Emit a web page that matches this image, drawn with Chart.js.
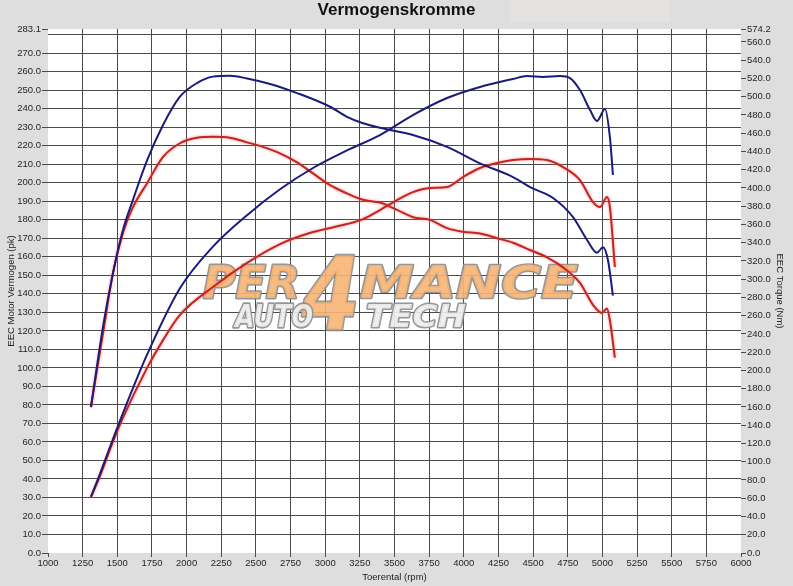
<!DOCTYPE html>
<html><head><meta charset="utf-8">
<script src="https://cdn.jsdelivr.net/npm/chart.js@4/dist/chart.umd.min.js"></script>
<style>html,body{margin:0;padding:0;background:#dedede;}#wrap{width:793px;height:586px;}</style>
</head><body><div id="wrap"><canvas id="c" width="793" height="586"></canvas></div>
<script>
// ---- data ----
const bluePowerRpm = [1310,1375,1450,1541,1714,1952,2190,2436,2674,2912,3157,3395,3633,3879,4117,4355,4456,4571,4694,4766,4838,4911,4961,5019,5054,5076];
const bluePowerPk  = [30.3,42.7,57.8,75.6,107.0,143.0,165.5,182.5,196.5,208.0,217.5,225.8,236.6,245.8,251.8,256.1,257.7,257.2,257.7,256.6,250.1,239.3,233.4,239.9,224.7,204.2];

const redPowerRpm = [1310,1375,1450,1534,1714,1830,1952,2190,2436,2674,2912,3157,3273,3395,3518,3633,3756,3879,3994,4117,4240,4355,4478,4600,4716,4838,4932,4983,5033,5054,5090];
const redPowerPk  = [30.3,41.5,56.5,71.9,99.9,115.0,128.6,143.7,156.7,166.9,173.4,177.7,180.4,185.3,190.7,195.0,197.2,197.7,203.1,208.0,210.7,212.3,212.9,212.3,208.5,201.5,189.6,186.9,192.3,186.9,154.5];

const blueTorqueRpm = [1310,1397,1469,1541,1613,1714,1830,1952,2075,2190,2313,2436,2602,2797,3035,3157,3273,3395,3633,3879,4117,4355,4478,4644,4788,4889,4961,5004,5040,5076];
const blueTorqueNm  = [160,248,307,354,387,430,469,500,515,522,523,520,514,504,489,478,471,466,458,445,427,412,401,389,368,343,329,335,321,282];

const redTorqueRpm = [1310,1397,1469,1541,1613,1714,1830,1952,2075,2190,2313,2436,2551,2674,2797,2912,3035,3157,3273,3395,3518,3633,3756,3879,3994,4117,4240,4355,4478,4600,4716,4838,4932,4997,5033,5054,5090];
const redTorqueNm  = [160,241,307,351,379,405,434,449,455,456,455,450,445,438,428,416,403,394,387,384,376,368,365,356,352,350,345,340,332,324,313,296,272,263,268,255,214];

const xTickValues = [1000,1250,1500,1750,2000,2250,2500,2750,3000,3250,3500,3750,4000,4250,4500,4750,5000,5250,5500,5750,6000];
const leftTickValues = [0,10,20,30,40,50,60,70,80,90,100,110,120,130,140,150,160,170,180,190,200,210,220,230,240,250,260,270,280,283.1];
const rightTickValues = [0,20,40,60,80,100,120,140,160,180,200,220,240,260,280,300,320,340,360,380,400,420,440,460,480,500,520,540,560,574.2];

const titleText = 'Vermogenskromme';
const xTitle = 'Toerental (rpm)';
const leftTitle = 'EEC Motor Vermogen (pk)';
const rightTitle = 'EEC Torque (Nm)';

// ---- helpers ----
const pts = (xs, ys) => xs.map((x, i) => ({x: x, y: ys[i]}));
const FONT = '"Liberation Sans", Arial, sans-serif';
const GRID = '#4a4a4a';
const TXT = '#262626';
const BLUE = '#1b1b7a';
const RED = '#c02622';

function fitText(ctx, text, x, yTop, w, h, fill, stroke, lw) {
  ctx.save();
  ctx.font = 'italic bold 100px "DejaVu Sans", sans-serif';
  const mw = ctx.measureText(text).width;
  ctx.translate(x, yTop + h);
  ctx.scale(w / mw, h / 73);
  ctx.textBaseline = 'alphabetic';
  ctx.lineJoin = 'round';
  ctx.lineWidth = lw * (mw / w + 73 / h) / 2;
  ctx.strokeStyle = stroke;
  ctx.strokeText(text, 0, 0);
  ctx.fillStyle = fill;
  ctx.fillText(text, 0, 0);
  ctx.restore();
}

const bgPlugin = {
  id: 'bg',
  beforeDraw(chart) {
    const {ctx, chartArea: a} = chart;
    ctx.save();
    ctx.fillStyle = '#dedede';
    ctx.fillRect(0, 0, chart.width, chart.height);
    ctx.fillStyle = '#e6e2e2';
    ctx.fillRect(510, 0, 160, 22);
    ctx.fillStyle = '#ffffff';
    ctx.fillRect(a.left, a.top, a.right - a.left, a.bottom - a.top);
    ctx.restore();
  },
  beforeDatasetsDraw(chart) {
    const ctx = chart.ctx;
    ctx.save();
    ctx.globalAlpha = 0.9;
    fitText(ctx, 'PER', 203, 266, 97, 32, '#f7b574', '#8c8c8c', 3);
    fitText(ctx, '4', 302, 256, 58, 74, '#f7b574', '#8c8c8c', 3);
    fitText(ctx, 'MANCE', 360, 266, 218, 32, '#f7b574', '#8c8c8c', 3);
    fitText(ctx, 'AUTO', 235, 304, 78, 23, '#eeeeee', '#8c8c8c', 3);
    fitText(ctx, 'TECH', 366, 304, 100, 23, '#eeeeee', '#8c8c8c', 3);
    ctx.restore();
  },
  beforeDatasetDraw(chart, args) {
    const ctx = chart.ctx;
    ctx.save();
    if (args.index >= 2) {
      ctx.shadowColor = 'rgba(255,110,110,0.8)';
      ctx.shadowBlur = 3;
    }
  },
  afterDatasetDraw(chart) {
    chart.ctx.restore();
  }
};

const tickFont = {family: FONT, size: 9.5};

new Chart(document.getElementById('c'), {
  type: 'line',
  data: {
    datasets: [
      {label: 'Vermogen getuned', data: pts(bluePowerRpm, bluePowerPk), yAxisID: 'y', borderColor: BLUE},
      {label: 'Koppel getuned', data: pts(blueTorqueRpm, blueTorqueNm), yAxisID: 'y2', borderColor: BLUE},
      {label: 'Vermogen standaard', data: pts(redPowerRpm, redPowerPk), yAxisID: 'y', borderColor: RED},
      {label: 'Koppel standaard', data: pts(redTorqueRpm, redTorqueNm), yAxisID: 'y2', borderColor: RED}
    ]
  },
  options: {
    responsive: false,
    animation: false,
    devicePixelRatio: 1,
    layout: {padding: 0},
    elements: {
      point: {radius: 0},
      line: {borderWidth: 2, cubicInterpolationMode: 'monotone', fill: false}
    },
    plugins: {
      legend: {display: false},
      tooltip: {enabled: false},
      title: {display: true, text: titleText, color: '#111',
        font: {family: FONT, size: 17, weight: 'bold'}, padding: {top: 0, bottom: 8.6}}
    },
    scales: {
      x: {
        type: 'linear', position: 'bottom', min: 1000, max: 6000,
        afterBuildTicks: s => { s.ticks = xTickValues.map(v => ({value: v})); },
        afterFit: s => { s.height = 33; },
        border: {display: false},
        grid: {
          color: c => (c.tick && (c.tick.value === 1000 || c.tick.value === 6000)) ? 'rgba(0,0,0,0)' : GRID,
          tickColor: GRID, tickLength: 4, lineWidth: 1
        },
        ticks: {autoSkip: false, maxRotation: 0, padding: 1, color: TXT, font: tickFont, callback: v => String(v)},
        title: {display: true, text: xTitle, color: '#222', font: tickFont, padding: {top: 0, bottom: 3}}
      },
      y: {
        type: 'linear', position: 'left', min: 0, max: 283.1,
        afterBuildTicks: s => { s.ticks = leftTickValues.map(v => ({value: v})); },
        afterFit: s => { s.width = 48; },
        border: {display: false},
        grid: {
          color: c => (c.tick && (c.tick.value === 0 || c.tick.value === 283.1)) ? 'rgba(0,0,0,0)' : GRID,
          tickColor: c => (c.tick && c.tick.value === 280) ? 'rgba(0,0,0,0)' : GRID,
          tickLength: 6, lineWidth: 1
        },
        ticks: {autoSkip: false, padding: 1, color: TXT, font: tickFont,
          callback: v => v === 280 ? '' : Number(v).toFixed(1)},
        title: {display: true, text: leftTitle, color: '#222', font: tickFont, padding: {top: 6, bottom: 0}}
      },
      y2: {
        type: 'linear', position: 'right', min: 0, max: 574.2,
        afterBuildTicks: s => { s.ticks = rightTickValues.map(v => ({value: v})); },
        afterFit: s => { s.width = 52; },
        border: {display: false},
        grid: {drawOnChartArea: false, tickColor: GRID, tickLength: 5, lineWidth: 1},
        ticks: {autoSkip: false, padding: 1, color: TXT, font: tickFont,
          callback: v => Number(v).toFixed(1)},
        title: {display: true, text: rightTitle, color: '#222', font: tickFont, padding: {top: 7.3, bottom: 0}}
      }
    }
  },
  plugins: [bgPlugin]
});
</script>
</body></html>
